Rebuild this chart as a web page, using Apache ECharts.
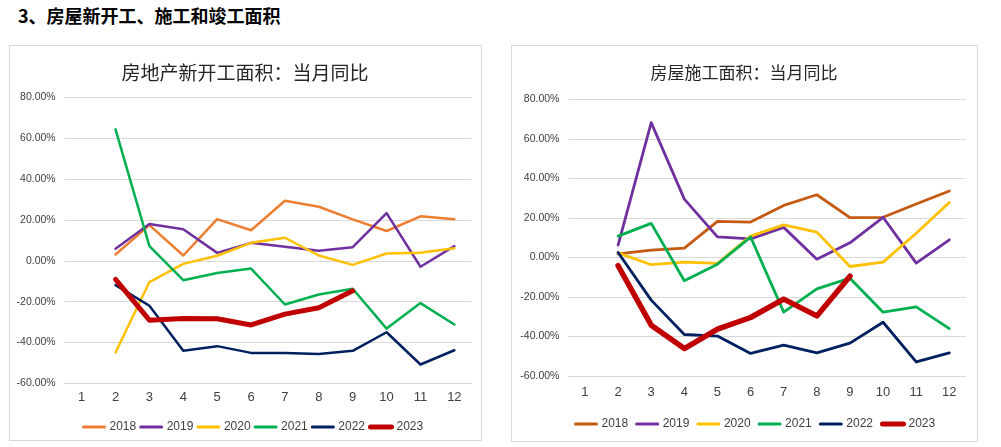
<!DOCTYPE html>
<html><head><meta charset="utf-8">
<script src="https://cdn.jsdelivr.net/npm/echarts@6/dist/echarts.min.js"></script>
<style>
html,body{margin:0;padding:0;background:#fff;width:1001px;height:447px;overflow:hidden;}
#head{position:absolute;left:18px;top:4px;font:bold 18px "Noto Sans CJK SC",sans-serif;color:#000;line-height:22px;}
.box{position:absolute;border:1px solid #d9d9d9;box-sizing:border-box;}
#c1{position:absolute;left:10px;top:46px;width:470px;height:393px;}
#c2{position:absolute;left:512px;top:46px;width:464px;height:394px;}
</style></head><body>
<div id="head">3、房屋新开工、施工和竣工面积</div>
<div class="box" style="left:9px;top:45px;width:473px;height:396px;"></div>
<div class="box" style="left:511px;top:45px;width:467px;height:397px;"></div>
<div id="c1"></div><div id="c2"></div>
<script>
const months = ['1','2','3','4','5','6','7','8','9','10','11','12'];
const years = ['2018','2019','2020','2021','2022','2023'];

const title1 = '房地产新开工面积：当月同比';
const ns2018 = [null, 3.1, 17.5, 2.6, 20.4, 15.0, 29.4, 26.5, 20.3, 14.6, 21.8, 20.4];
const ns2019 = [null, 5.9, 18.0, 15.5, 3.9, 8.8, 6.9, 4.9, 6.7, 23.4, -2.9, 7.2];
const ns2020 = [null, -44.9, -10.4, -1.5, 2.5, 8.8, 11.3, 2.6, -2.0, 3.6, 3.9, 6.2];
const ns2021 = [null, 64.4, 7.2, -9.5, -6.0, -3.8, -21.4, -16.5, -13.7, -33.2, -20.7, -31.2];
const ns2022 = [null, -11.9, -22.0, -44.1, -41.8, -45.1, -45.2, -45.6, -44.1, -35.0, -50.8, -43.8];
const ns2023 = [null, -9.1, -29.1, -28.3, -28.4, -31.4, -26.1, -23.0, -14.7, null, null, null];

const title2 = '房屋施工面积：当月同比';
const uc2018 = [null, 1.8, 3.7, 4.7, 18.2, 17.9, 26.3, 31.7, 20.1, 20.3, 27.0, 33.6];
const uc2019 = [null, 6.2, 68.2, 29.5, 10.4, 9.4, 15.2, -0.9, 7.4, 20.3, -2.9, 8.9];
const uc2020 = [null, 2.3, -3.7, -2.4, -3.0, 10.8, 16.5, 12.8, -4.6, -2.4, 12.2, 27.8];
const uc2021 = [null, 10.8, 17.2, -11.8, -3.4, 10.3, -27.7, -15.9, -10.5, -27.7, -25.0, -36.0];
const uc2022 = [null, 2.5, -21.6, -39.0, -39.8, -48.6, -44.4, -48.3, -43.4, -32.8, -52.9, -48.3];
const uc2023 = [null, -4.2, -34.3, -46.1, -36.3, -30.4, -21.1, -29.6, -9.5, null, null, null];

const colors1 = ['#ED7D31','#7030A0','#FFC000','#00B050','#002060','#C00000'];
const colors2 = ['#C55A11','#7030A0','#FFC000','#00B050','#002060','#C00000'];

function build(cfg){
  return {
    animation:false,
    title:{text:cfg.title,left:'center',top:cfg.titleTop,
      textStyle:{fontFamily:'"Noto Sans CJK SC",sans-serif',fontSize:cfg.titleSize,fontWeight:'normal',color:'#262626'}},
    legend:{data:years.map((y,i)=>({name:y,lineStyle:{width:i===5?5:3}})),
      left:cfg.legLeft,top:cfg.legTop,itemWidth:21,itemHeight:12,itemGap:cfg.legGap,
      itemStyle:{opacity:0,borderWidth:0},
      textStyle:{fontFamily:'"Liberation Sans",Arial,sans-serif',fontSize:12,color:'#404040'}},
    grid:{left:cfg.gl,right:cfg.gr,top:cfg.gt,bottom:cfg.gb,containLabel:false},
    xAxis:{type:'category',data:months,boundaryGap:true,
      axisLine:{show:false},axisTick:{show:false},
      axisLabel:{margin:cfg.xm,fontFamily:'"Liberation Sans",Arial,sans-serif',fontSize:13,color:'#404040'}},
    yAxis:{type:'value',min:-60,max:80,interval:20,
      axisLine:{show:false},axisTick:{show:false},
      splitLine:{lineStyle:{color:'#d9d9d9',width:1}},
      axisLabel:{margin:9,fontFamily:'"Liberation Sans",Arial,sans-serif',fontSize:10.5,color:'#404040',
        formatter:v=>v.toFixed(2)+'%'}},
    series:cfg.data.map((d,i)=>({
      name:years[i],type:'line',data:d,symbol:'none',connectNulls:false,
      lineStyle:{color:cfg.colors[i],width:i===5?cfg.redW:cfg.w,cap:'round',join:'round'},
      itemStyle:{color:cfg.colors[i]},z:i===5?10:2
    }))
  };
}
const ch1 = echarts.init(document.getElementById('c1'));
ch1.setOption(build({title:title1,titleTop:12,titleSize:19,legLeft:67,legTop:370,legGap:3,
  gl:54.7,gr:8.7,gt:51.5,gb:55.7,xm:8,colors:colors1,w:2.5,redW:5,
  data:[ns2018,ns2019,ns2020,ns2021,ns2022,ns2023]}));
const ch2 = echarts.init(document.getElementById('c2'));
ch2.setOption(build({title:title2,titleTop:13,titleSize:17,legLeft:57,legTop:367,legGap:7,
  gl:56.4,gr:10.1,gt:53.3,gb:64,xm:10,colors:colors2,w:2.8,redW:5.5,
  data:[uc2018,uc2019,uc2020,uc2021,uc2022,uc2023]}));
</script>
</body></html>
